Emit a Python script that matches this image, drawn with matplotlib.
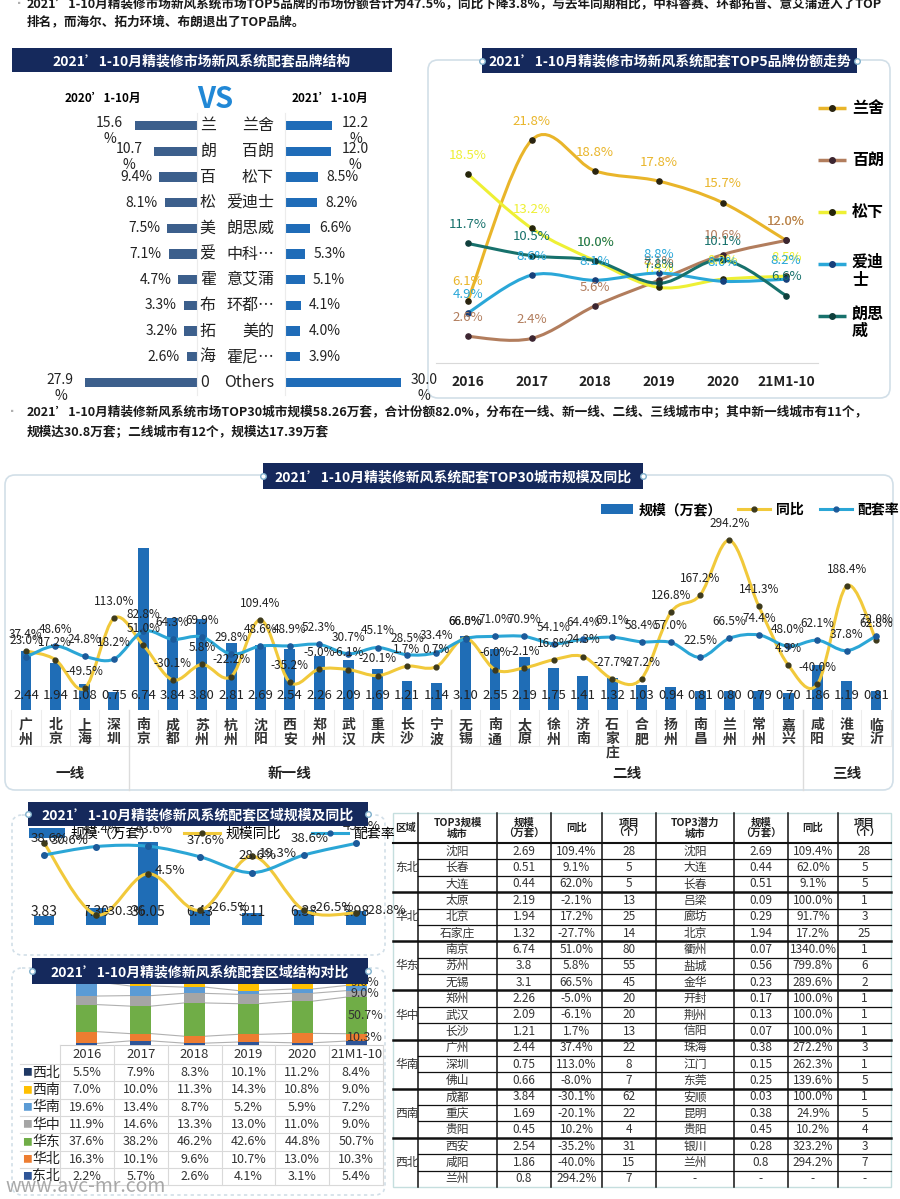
import numpy as np
import matplotlib
matplotlib.use("Agg")
import matplotlib.pyplot as plt
from matplotlib.path import Path
from matplotlib.patches import PathPatch, Rectangle, FancyBboxPatch
from matplotlib.lines import Line2D

plt.rcParams['font.family'] = ['Noto Sans CJK SC', 'DejaVu Sans']

W, H = 900, 1199

# ---------------- data ----------------
brands_2020 = ["兰", "朗", "百", "松", "美", "爱", "霍", "布", "拓", "海", "0"]
share_2020 = [15.6, 10.7, 9.4, 8.1, 7.5, 7.1, 4.7, 3.3, 3.2, 2.6, 27.9]
brands_2021 = ["兰舍", "百朗", "松下", "爱迪士", "朗思威", "中科…", "意艾蒲", "环都…", "美的", "霍尼…", "Others"]
share_2021 = [12.2, 12.0, 8.5, 8.2, 6.6, 5.3, 5.1, 4.1, 4.0, 3.9, 30.0]

years = ["2016", "2017", "2018", "2019", "2020", "21M1-10"]
top5_names = ["兰舍", "百朗", "松下", "爱迪士", "朗思威"]
top5_share = [
    [6.1, 21.8, 18.8, 17.8, 15.7, 12.0],
    [2.6, 2.4, 5.6, 8.1, 10.6, 12.0],
    [18.5, 13.2, 10.0, 7.4, 8.2, 8.5],
    [4.9, 8.6, 8.1, 8.8, 8.0, 8.2],
    [11.7, 10.5, 10.0, 7.8, 10.1, 6.6],
]

cities = ["广州", "北京", "上海", "深圳", "南京", "成都", "苏州", "杭州", "沈阳", "西安",
          "郑州", "武汉", "重庆", "长沙", "宁波", "无锡", "南通", "太原", "徐州", "济南",
          "石家庄", "合肥", "扬州", "南昌", "兰州", "常州", "嘉兴", "咸阳", "淮安", "临沂"]
city_scale = [2.44, 1.94, 1.08, 0.75, 6.74, 3.84, 3.80, 2.81, 2.69, 2.54,
              2.26, 2.09, 1.69, 1.21, 1.14, 3.10, 2.55, 2.19, 1.75, 1.41,
              1.32, 1.03, 0.94, 0.81, 0.80, 0.79, 0.70, 1.86, 1.19, 0.81]
city_yoy = [37.4, 17.2, -49.5, 113.0, 51.0, -30.1, 5.8, -22.2, 109.4, -35.2,
            -5.0, -6.1, -20.1, 1.7, 0.7, 66.5, -6.0, -2.1, 16.8, 24.3,
            -27.7, -27.2, 126.8, 167.2, 294.2, 141.3, 4.9, -40.0, 188.4, 62.8]
city_rate = [23.0, 48.6, 24.8, 18.2, 82.8, 64.3, 69.9, 29.8, 48.6, 48.9,
             52.3, 30.7, 45.1, 28.5, 33.4, 66.0, 71.0, 70.9, 54.1, 64.4,
             69.1, 58.4, 57.0, 22.5, 66.5, 74.4, 48.0, 62.1, 37.8, 72.0]
tiers = ["一线", "新一线", "二线", "三线"]
tier_counts = [4, 11, 12, 3]

regions = ["东北", "华北", "华东", "华中", "华南", "西南", "西北"]
region_scale = [3.83, 7.30, 36.05, 6.43, 5.11, 6.38, 5.98]
region_yoy = [30.6, -30.3, 4.5, -26.5, 19.3, -26.5, -28.8]
region_rate = [38.6, 43.4, 43.6, 37.6, 28.6, 38.6, 45.2]

region_struct = [
    [2.2, 5.7, 2.6, 4.1, 3.1, 5.4],        # 东北
    [16.3, 10.1, 9.6, 10.7, 13.0, 10.3],   # 华北
    [37.6, 38.2, 46.2, 42.6, 44.8, 50.7],  # 华东
    [11.9, 14.6, 13.3, 13.0, 11.0, 9.0],   # 华中
    [19.6, 13.4, 8.7, 5.2, 5.9, 7.2],      # 华南
    [7.0, 10.0, 11.3, 14.3, 10.8, 9.0],    # 西南
    [5.5, 7.9, 8.3, 10.1, 11.2, 8.4],      # 西北
]

tbl_region = ["东北", "华北", "华东", "华中", "华南", "西南", "西北"]
top_city = ["沈阳", "长春", "大连", "太原", "北京", "石家庄", "南京", "苏州", "无锡", "郑州", "武汉",
            "长沙", "广州", "深圳", "佛山", "成都", "重庆", "贵阳", "西安", "咸阳", "兰州"]
top_scale = ["2.69", "0.51", "0.44", "2.19", "1.94", "1.32", "6.74", "3.8", "3.1", "2.26", "2.09",
             "1.21", "2.44", "0.75", "0.66", "3.84", "1.69", "0.45", "2.54", "1.86", "0.8"]
top_yoy = ["109.4%", "9.1%", "62.0%", "-2.1%", "17.2%", "-27.7%", "51.0%", "5.8%", "66.5%", "-5.0%",
           "-6.1%", "1.7%", "37.4%", "113.0%", "-8.0%", "-30.1%", "-20.1%", "10.2%", "-35.2%",
           "-40.0%", "294.2%"]
top_proj = ["28", "5", "5", "13", "25", "14", "80", "55", "45", "20", "20",
            "13", "22", "8", "7", "62", "22", "4", "31", "15", "7"]
pot_city = ["沈阳", "大连", "长春", "吕梁", "廊坊", "北京", "衢州", "盐城", "金华", "开封", "荆州",
            "信阳", "珠海", "江门", "东莞", "安顺", "昆明", "贵阳", "银川", "兰州", "-"]
pot_scale = ["2.69", "0.44", "0.51", "0.09", "0.29", "1.94", "0.07", "0.56", "0.23", "0.17", "0.13",
             "0.07", "0.38", "0.15", "0.25", "0.03", "0.38", "0.45", "0.28", "0.8", "-"]
pot_yoy = ["109.4%", "62.0%", "9.1%", "100.0%", "91.7%", "17.2%", "1340.0%", "799.8%", "289.6%",
           "100.0%", "100.0%", "100.0%", "272.2%", "262.3%", "139.6%", "100.0%", "24.9%", "10.2%",
           "323.2%", "294.2%", "-"]
pot_proj = ["28", "5", "5", "1", "3", "25", "1", "6", "2", "1", "1",
            "1", "3", "1", "5", "1", "5", "4", "3", "7", "-"]
tbl_header = ["区域", "TOP3规模\n城市", "规模\n（万套）", "同比", "项目\n（个）",
              "TOP3潜力\n城市", "规模\n（万套）", "同比", "项目\n（个）"]

# ---------------- styles ----------------
NAVY = "#15295c"
top5_colors = ["#e9b52a", "#b27d5d", "#eef034", "#2aa7d8", "#17716c"]
top5_dots = ["#2a2410", "#3c2530", "#25250a", "#173f7a", "#0f3f3c"]
struct_colors = ["#2f5597", "#ed7d31", "#70ad47", "#a5a5a5", "#5b9bd5", "#ffc000", "#1f3864"]
BAR_BLUE = "#1f6db6"
YOY_C = "#f1c93b"
RATE_C = "#2ba6d6"


def px_rect(x0, y0, x1, y1):
    return [x0 / W, 1 - y1 / H, (x1 - x0) / W, (y1 - y0) / H]


def clean(ax):
    ax.patch.set_visible(False)
    for s in ax.spines.values():
        s.set_visible(False)
    ax.set_xticks([])
    ax.set_yticks([])


def smooth_line(ax, xs, ys, color, lw=2.0, z=3):
    # catmull-rom style curve through the data points (like excel smoothed lines)
    pts = np.column_stack([xs, ys]).astype(float)
    n = len(pts)
    verts = [pts[0]]
    codes = [Path.MOVETO]
    for i in range(n - 1):
        p0 = pts[max(i - 1, 0)]
        p1 = pts[i]
        p2 = pts[i + 1]
        p3 = pts[min(i + 2, n - 1)]
        verts += [p1 + (p2 - p0) / 6, p2 - (p3 - p1) / 6, p2]
        codes += [Path.CURVE4] * 3
    ax.add_patch(PathPatch(Path(verts, codes), fill=False, ec=color, lw=lw,
                           zorder=z, capstyle='round'))


fig = plt.figure(figsize=(9, 11.99), dpi=100)

bg = fig.add_axes([0, 0, 1, 1], zorder=0)
bg.set_xlim(0, W)
bg.set_ylim(H, 0)
bg.axis('off')

ov = fig.add_axes([0, 0, 1, 1], zorder=20)
ov.set_xlim(0, W)
ov.set_ylim(H, 0)
ov.axis('off')
ov.patch.set_visible(False)


def panel(x0, y0, x1, y1, ls='-'):
    bg.add_patch(FancyBboxPatch((x0, y0), x1 - x0, y1 - y0,
                                boxstyle="round,pad=0,rounding_size=10",
                                fc='white', ec='#d2dfe8', lw=1.2, ls=ls))


def banner(x0, y0, x1, y1, text, dots=True):
    ov.add_patch(Rectangle((x0, y0), x1 - x0, y1 - y0, fc=NAVY, ec='none'))
    ov.text((x0 + x1) / 2, (y0 + y1) / 2 + 1, text, color='white', ha='center',
            va='center', fontsize=10, fontweight='bold')
    if dots:
        ov.plot([x0, x1], [(y0 + y1) / 2] * 2, 'o', ms=4, mfc='white',
                mec='#7fb0cc', mew=1, ls='none')


# ---------------- paragraphs ----------------
txt_kw = dict(fontsize=9.1, fontweight='bold', va='center', color='#1a1a1a')
ov.text(15, 4, '▪', color='#b0b0b0', fontsize=6, va='center')
ov.text(27, 4, "2021’1-10月精装修市场新风系统市场TOP5品牌的市场份额合计为47.5%，同比下降3.8%，"
        "与去年同期相比，中科睿赛、环都拓普、意艾蒲进入了TOP", **txt_kw)
ov.text(27, 22, "排名，而海尔、拓力环境、布朗退出了TOP品牌。", **txt_kw)
ov.text(8, 412, '▪', color='#b0b0b0', fontsize=6, va='center')
ov.text(27, 412, "2021’1-10月精装修新风系统市场TOP30城市规模58.26万套，合计份额82.0%，"
        "分布在一线、新一线、二线、三线城市中；其中新一线城市有11个，", **txt_kw)
ov.text(27, 432, "规模达30.8万套；二线城市有12个，规模达17.39万套", **txt_kw)

# ---------------- panel boxes ----------------
panel(428, 60, 890, 398)
panel(5, 475, 893, 790)
panel(12, 815, 385, 955, ls=(0, (2, 2)))
panel(12, 968, 385, 1195, ls=(0, (2, 2)))
bg.add_patch(Rectangle((393, 813), 498, 374, fc='white', ec='#c5dede', lw=1))

# ---------------- brand structure (left top) ----------------
banner(12, 48, 392, 72, "2021’1-10月精装修市场新风系统配套品牌结构", dots=False)
ov.text(103, 98, "2020’1-10月", ha='center', va='center', fontsize=8.5, fontweight='bold')
ov.text(330, 98, "2021’1-10月", ha='center', va='center', fontsize=8.5, fontweight='bold')
ov.text(215, 99, "VS", ha='center', va='center', fontsize=21, fontweight='bold', color='#2188d6')

rows = np.arange(len(share_2020))
axL = fig.add_axes(px_rect(60, 113, 197, 395), zorder=5)
clean(axL)
axL.barh(rows, share_2020, height=0.36, color='#3c5f8c')
axL.set_xlim(34.25, 0)
axL.set_ylim(len(rows) - 0.5, -0.5)
axL.spines['right'].set_visible(True)
axL.spines['right'].set_color('#ececec')
for i, v in enumerate(share_2020):
    if v >= 10:
        axL.annotate(f"{v:.1f}\n%", (v, i), xytext=(-18, -4), textcoords='offset points',
                     ha='center', va='center', fontsize=10, linespacing=1.2, color='#222')
    else:
        axL.annotate(f"{v:.1f}%", (v, i), xytext=(-5, 0), textcoords='offset points',
                     ha='right', va='center', fontsize=10, color='#222')
    axL.annotate(brands_2020[i], (0, i), xytext=(2, 0), textcoords='offset points',
                 ha='left', va='center', fontsize=11.5, color='#222', annotation_clip=False)

axR = fig.add_axes(px_rect(285, 113, 420, 395), zorder=5)
clean(axR)
axR.barh(rows, share_2021, height=0.36, color='#1f6cb8')
axR.set_xlim(0, 35)
axR.set_ylim(len(rows) - 0.5, -0.5)
axR.spines['left'].set_visible(True)
axR.spines['left'].set_color('#ececec')
for i, v in enumerate(share_2021):
    if v >= 10:
        axR.annotate(f"{v:.1f}\n%", (v, i), xytext=(17, -4), textcoords='offset points',
                     ha='center', va='center', fontsize=10, linespacing=1.2, color='#222',
                     annotation_clip=False)
    else:
        axR.annotate(f"{v:.1f}%", (v, i), xytext=(6, 0), textcoords='offset points',
                     ha='left', va='center', fontsize=10, color='#222')
    axR.annotate(brands_2021[i], (0, i), xytext=(-8, 0), textcoords='offset points',
                 ha='right', va='center', fontsize=11.5, color='#222', annotation_clip=False)

# ---------------- TOP5 trend (right top) ----------------
banner(482, 48, 857, 73, "2021’1-10月精装修市场新风系统配套TOP5品牌份额走势")
axT = fig.add_axes(px_rect(436, 80, 818, 363), zorder=5)
axT.patch.set_visible(False)
for s in ['top', 'left', 'right']:
    axT.spines[s].set_visible(False)
axT.spines['bottom'].set_color('#d9d9d9')
xt = np.arange(len(years))
for k, vals in enumerate(top5_share):
    smooth_line(axT, xt, vals, top5_colors[k], lw=2.2, z=2 + k)
    axT.scatter(xt, vals, s=14, color=top5_dots[k], zorder=2.5 + k)
    for i, v in enumerate(vals):
        axT.annotate(f"{v:.1f}%", (i, v), xytext=(0, 13.5), textcoords='offset points',
                     ha='center', va='center', fontsize=9.5, color=top5_colors[k], zorder=8)
axT.set_xlim(-0.5, 5.5)
axT.set_ylim(0, 27.7)
axT.set_yticks([])
axT.set_xticks(xt)
axT.set_xticklabels(years, fontsize=10, fontweight='bold', color='#222')
axT.tick_params(axis='x', length=0, pad=9)

for k, name in enumerate(top5_names):
    y = 108 + k * 52
    ov.plot([818, 846], [y, y], color=top5_colors[k], lw=2.5, solid_capstyle='butt')
    ov.plot(832, y, 'o', ms=4, color=top5_dots[k])
    if len(name) > 2:
        ov.text(852, y - 10, name[:2] + "\n" + name[2:], va='top', ha='left', fontsize=11.5,
                fontweight='bold', linespacing=1.05)
    else:
        ov.text(852, y, name, va='center', ha='left', fontsize=11.5, fontweight='bold')

# ---------------- TOP30 cities (middle) ----------------
banner(263, 463, 643, 489, "2021’1-10月精装修新风系统配套TOP30城市规模及同比")
xc = np.arange(len(cities))
axM = fig.add_axes(px_rect(11.3, 500, 890.7, 710), zorder=5)
clean(axM)
axM.bar(xc, city_scale, width=0.37, color=BAR_BLUE)
axM.set_xlim(-0.5, len(cities) - 0.5)
axM.set_ylim(0, 8.75)
for i, v in enumerate(city_scale):
    axM.text(i, 0.62, f"{v:.2f}", ha='center', va='center', fontsize=9.5, color='#222', zorder=9)

axM2 = axM.twinx()
clean(axM2)
axM2.set_zorder(6)
axM2.set_ylim(-100, 388)
smooth_line(axM2, xc, city_yoy, YOY_C, lw=2.2, z=3)
axM2.scatter(xc, city_yoy, s=12, color='#3d3a1c', zorder=4)
smooth_line(axM2, xc, city_rate, RATE_C, lw=2.2, z=3.5)
axM2.scatter(xc, city_rate, s=14, color='#1c5a9a', zorder=4.5)
for i in range(len(cities)):
    for v in (city_yoy[i], city_rate[i]):
        axM2.annotate(f"{v:.1f}%", (i, v), xytext=(0, 12), textcoords='offset points',
                      ha='center', va='center', fontsize=8.5, color='#222', zorder=9)

tr = axM.get_xaxis_transform()
for i, c in enumerate(cities):
    axM.text(i, -0.04, "\n".join(c), transform=tr, ha='center', va='top', fontsize=10,
             fontweight='bold', color='#333', linespacing=1.0)
for b in np.arange(-0.5, len(cities), 1.0):
    axM.plot([b, b], [0, -0.17], transform=tr, color='#ededed', lw=0.8, clip_on=False)
axM.plot([-0.5, len(cities) - 0.5], [-0.17, -0.17], transform=tr, color='#ededed', lw=0.8,
         clip_on=False)
start = 0
for t, n in zip(tiers, tier_counts):
    end = start + n
    if end < len(cities):
        axM.plot([end - 0.5, end - 0.5], [0, -0.38], transform=tr, color='#dcdcdc', lw=1,
                 clip_on=False)
    axM.text((start + end - 1) / 2, -0.30, t, transform=tr, ha='center', va='center',
             fontsize=10.5, fontweight='bold', color='#222')
    start = end

mid_handles = [Rectangle((0, 0), 1, 1, fc=BAR_BLUE),
               Line2D([], [], color=YOY_C, lw=2.2, marker='o', ms=3.5, mfc='#3d3a1c', mec='#3d3a1c'),
               Line2D([], [], color=RATE_C, lw=2.2, marker='o', ms=3.5, mfc='#1c5a9a', mec='#1c5a9a')]
fig.legend(mid_handles, ["规模（万套）", "同比", "配套率"], loc='center',
           bbox_to_anchor=(750 / W, 1 - 510 / H), ncol=3, frameon=False,
           prop={'weight': 'bold', 'size': 10}, handlelength=2.3, columnspacing=1.2,
           handletextpad=0.4)

# ---------------- regions scale & yoy (bottom left) ----------------
banner(28, 802, 368, 826, "2021’1-10月精装修新风系统配套区域规模及同比")
xr = np.arange(len(regions))
axG = fig.add_axes(px_rect(18, 830, 382, 925), zorder=5)
axG.patch.set_visible(False)
for s in axG.spines.values():
    s.set_visible(False)
axG.bar(xr, region_scale, width=0.38, color=BAR_BLUE)
axG.set_xlim(-0.5, len(regions) - 0.5)
axG.set_ylim(0, 41.3)
axG.set_yticks([])
axG.set_xticks(xr)
axG.set_xticklabels(regions, fontsize=10.5, fontweight='bold', color='#222')
axG.tick_params(axis='x', length=0, pad=7)
for i, v in enumerate(region_scale):
    axG.text(i, 5.65, f"{v:.2f}", ha='center', va='center', fontsize=10, color='#222', zorder=9)

axGy = axG.twinx()
clean(axGy)
axGy.set_zorder(6)
axGy.set_ylim(-39, 41.5)
smooth_line(axGy, xr, region_yoy, YOY_C, lw=2.2, z=3)
axGy.scatter(xr, region_yoy, s=14, color='#3d3a1c', zorder=4)
for i, v in enumerate(region_yoy):
    axGy.annotate(f"{v:.1f}%", (i, v), xytext=(5, 2), textcoords='offset points',
                  ha='left', va='center', fontsize=9.5, color='#222', zorder=9)

axGc = axG.twinx()
clean(axGc)
axGc.set_zorder(7)
axGc.set_ylim(-1.1, 52.8)
smooth_line(axGc, xr, region_rate, RATE_C, lw=2.2, z=3)
axGc.scatter(xr, region_rate, s=16, color='#1c5a9a', zorder=4)
for i, v in enumerate(region_rate):
    axGc.annotate(f"{v:.1f}%", (i, v), xytext=(4, 12), textcoords='offset points',
                  ha='center', va='center', fontsize=9.5, color='#222', zorder=9)

reg_handles = [Rectangle((0, 0), 1, 1, fc=BAR_BLUE),
               Line2D([], [], color=YOY_C, lw=2.2, marker='o', ms=3.5, mfc='#3d3a1c', mec='#3d3a1c'),
               Line2D([], [], color=RATE_C, lw=2.2, marker='o', ms=3.5, mfc='#1c5a9a', mec='#1c5a9a')]
fig.legend(reg_handles, ["规模（万套）", "规模同比", "配套率"], loc='center',
           bbox_to_anchor=(212 / W, 1 - 834 / H), ncol=3, frameon=False,
           prop={'size': 10}, handlelength=2.6, columnspacing=2.2, handletextpad=0.4)

# ---------------- regional structure (bottom left) ----------------
axS = fig.add_axes(px_rect(60, 973, 383, 1045), zorder=5)
clean(axS)
axS.spines['bottom'].set_visible(True)
axS.spines['bottom'].set_color('#d0d0d0')
xs = np.arange(len(years))
bw = 0.39
bottoms = np.zeros(len(years))
for k, vals in enumerate(region_struct):
    vals = np.array(vals)
    axS.bar(xs, vals, bottom=bottoms, width=bw, color=struct_colors[k], zorder=3)
    tops = bottoms + vals
    for i in range(len(years) - 1):
        axS.plot([i + bw / 2, i + 1 - bw / 2], [tops[i], tops[i + 1]], color='#b0b0b0',
                 lw=0.8, zorder=2)
    if vals[-1] >= 9:
        axS.text(len(years) - 1 + 0.17, bottoms[-1] + vals[-1] / 2, f"{vals[-1]:.1f}%",
                 ha='center', va='center', fontsize=9, color='#333', zorder=5)
    bottoms = tops
axS.set_xlim(-0.5, len(years) - 0.5)
axS.set_ylim(0, 100)
banner(32, 958, 368, 984, "2021’1-10月精装修新风系统配套区域结构对比")

# data table under the stacked chart
colw = (383 - 60) / len(years)
row_top = 1064
row_h = 17.3
grid = '#d9d9d9'
for i, yl in enumerate(years):
    ov.text(60 + (i + 0.5) * colw, 1055, yl, ha='center', va='center', fontsize=9.5, color='#333')
for r, k in enumerate(range(len(regions) - 1, -1, -1)):
    yc = row_top + (r + 0.5) * row_h
    ov.text(22, yc, "■", color=struct_colors[k], fontsize=7, va='center', ha='left')
    ov.text(32, yc, regions[k], fontsize=10, va='center', ha='left', color='#222')
    for i, v in enumerate(region_struct[k]):
        ov.text(60 + (i + 0.5) * colw, yc, f"{v:.1f}%", ha='center', va='center',
                fontsize=9, color='#333')
for r in range(len(regions) + 1):
    y = row_top + r * row_h
    ov.plot([20, 383], [y, y], color=grid, lw=0.8)
for i in range(len(years) + 1):
    ov.plot([60 + i * colw] * 2, [1045, row_top + len(regions) * row_h], color=grid, lw=0.8)
ov.text(5, 1187, "www.avc-mr.com", fontsize=14, color='#9a9a9a', alpha=0.85, va='center')

# ---------------- right table ----------------
col_x = [393, 418, 497, 551, 602, 656, 734, 788, 838, 891]
t_top, t_head = 813, 843
t_rh = (1187 - t_head) / len(top_city)
for j, h in enumerate(tbl_header):
    ov.text((col_x[j] + col_x[j + 1]) / 2, (t_top + t_head) / 2, h, ha='center', va='center',
            fontsize=7.5, fontweight='bold', linespacing=1.1, color='#222')
columns = [top_city, top_scale, top_yoy, top_proj, pot_city, pot_scale, pot_yoy, pot_proj]
for r in range(len(top_city)):
    yc = t_head + (r + 0.5) * t_rh
    for j, col in enumerate(columns):
        ov.text((col_x[j + 1] + col_x[j + 2]) / 2, yc, col[r], ha='center', va='center',
                fontsize=8.5, color='#333')
for g, reg in enumerate(tbl_region):
    ov.text(395, t_head + (g * 3 + 1.5) * t_rh, reg, ha='left', va='center', fontsize=8.5,
            color='#333')
for x in col_x[1:-1]:
    ov.plot([x, x], [t_top, 1187], color='#111', lw=1.1)
ov.plot([col_x[0], col_x[-1]], [t_head, t_head], color='#111', lw=1.5)
for r in range(1, len(top_city)):
    y = t_head + r * t_rh
    if r % 3 == 0:
        ov.plot([col_x[0], col_x[-1]], [y, y], color='#111', lw=1.8)
    else:
        ov.plot([col_x[1], col_x[-1]], [y, y], color='#111', lw=0.9)

fig.savefig("out.png", dpi=100)
